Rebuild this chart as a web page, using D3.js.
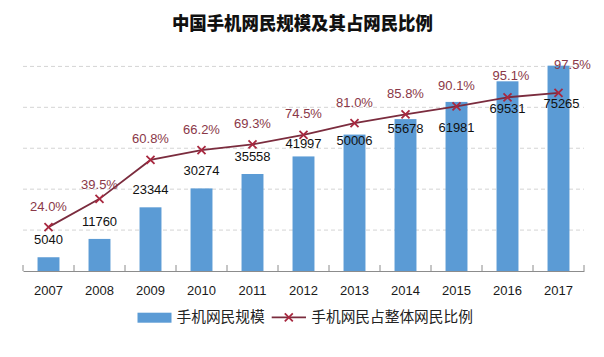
<!DOCTYPE html>
<html>
<head>
<meta charset="utf-8">
<script src="https://cdn.jsdelivr.net/npm/d3@7"></script>
<style>
  html, body { margin: 0; padding: 0; background: #fff; }
  svg { display: block; }
</style>
</head>
<body>
<svg id="chart" width="604" height="357"></svg>
<script>
// ---- data ----
const years = ["2007","2008","2009","2010","2011","2012","2013","2014","2015","2016","2017"];
const users = [5040, 11760, 23344, 30274, 35558, 41997, 50006, 55678, 61981, 69531, 75265];
const shares = [24.0, 39.5, 60.8, 66.2, 69.3, 74.5, 81.0, 85.8, 90.1, 95.1, 97.5];
const gridTicks = [15000, 30000, 45000, 60000, 75000];
const title = "中国手机网民规模及其占网民比例";
const seriesNames = ["手机网民规模", "手机网民占整体网民比例"];

// ---- layout (label nudges, px) ----
const barLabelNudge = { "2012": [0, 4.4], "2013": [0, 23.6], "2014": [0, 26.7], "2015": [0, 42.6], "2016": [0, 44.2], "2017": [3, 55.1] };
const pctLabelNudge = { "2008": [0, 7], "2016": [3.5, -1], "2017": [14, -7] };

const barColor = "#5B9BD5";
const lineColor = "#7B2C3E";
const markColor = "#A8283F";
const pctColor = "#8A3848";
const numFont = "'Liberation Sans', Arial, 'Noto Sans CJK SC', sans-serif";
const cjkFont = "'Noto Sans CJK SC', 'Liberation Sans', sans-serif";

const svg = d3.select("#chart");
svg.append("rect").attr("width", 604).attr("height", 357).attr("fill", "#fff");

const x = d3.scaleBand().domain(years).range([23, 584]).padding(0);
const y = d3.scaleLinear().domain([0, 75000]).range([271, 66.4]);
const y2 = d3.scaleLinear().domain([0, 112]).range([271, 66.4]);
const bw = x.bandwidth() * 0.43;

// title
svg.append("text")
  .attr("x", 302.4).attr("y", 23.3).attr("dy", "0.35em")
  .attr("text-anchor", "middle")
  .attr("font-family", cjkFont).attr("font-weight", 900)
  .attr("font-size", 18.5).attr("fill", "#111")
  .attr("textLength", 261).attr("lengthAdjust", "spacingAndGlyphs")
  .text(title);

// gridlines
svg.append("g").selectAll("line").data(gridTicks).join("line")
  .attr("x1", 23).attr("x2", 584)
  .attr("y1", d => y(d)).attr("y2", d => y(d))
  .attr("stroke", "#d4d4d4").attr("stroke-width", 1)
  .attr("stroke-dasharray", "4,3");

// bars
svg.append("g").selectAll("rect").data(years).join("rect")
  .attr("x", (d) => x(d) + (x.bandwidth() - bw) / 2)
  .attr("width", bw)
  .attr("y", (d, i) => y(users[i]))
  .attr("height", (d, i) => y(0) - y(users[i]))
  .attr("fill", barColor);

// x axis
const xAxis = d3.axisBottom(x).tickSize(0).tickSizeOuter(0).tickPadding(14.5);
const gx = svg.append("g").attr("transform", `translate(0,${y(0)})`).call(xAxis);
gx.select(".domain").attr("stroke", "#8c8c8c");
gx.selectAll("text").attr("font-family", numFont).attr("font-size", 13).attr("fill", "#1a1a1a");
// boundary ticks
const bounds = years.map(d => x(d)).concat([x.range()[1]]);
svg.append("g").selectAll("line").data(bounds).join("line")
  .attr("x1", d => d).attr("x2", d => d)
  .attr("y1", y(0) - 6).attr("y2", y(0))
  .attr("stroke", "#8c8c8c").attr("stroke-width", 1);

// line
const cx = d => x(d) + x.bandwidth() / 2;
const line = d3.line().x(d => cx(d)).y((d, i) => y2(shares[i]));
svg.append("path").datum(years)
  .attr("d", line).attr("fill", "none")
  .attr("stroke", lineColor).attr("stroke-width", 1.8);

// markers
const ms = 4;
const mk = svg.append("g").selectAll("g").data(years).join("g")
  .attr("transform", (d, i) => `translate(${cx(d)},${y2(shares[i])})`);
mk.append("path").attr("d", `M${-ms},${-ms}L${ms},${ms}M${-ms},${ms}L${ms},${-ms}`)
  .attr("stroke", markColor).attr("stroke-width", 1.8);

// bar labels
svg.append("g").selectAll("text").data(years).join("text")
  .attr("x", d => cx(d) + (barLabelNudge[d] ? barLabelNudge[d][0] : 0))
  .attr("y", (d, i) => y(users[i]) - 17.5 + (barLabelNudge[d] ? barLabelNudge[d][1] : 0))
  .attr("dy", "0.35em").attr("text-anchor", "middle")
  .attr("font-family", numFont).attr("font-size", 13).attr("fill", "#111")
  .text((d, i) => users[i]);

// percent labels
svg.append("g").selectAll("text").data(years).join("text")
  .attr("x", d => cx(d) + (pctLabelNudge[d] ? pctLabelNudge[d][0] : 0))
  .attr("y", (d, i) => y2(shares[i]) - 21 + (pctLabelNudge[d] ? pctLabelNudge[d][1] : 0))
  .attr("dy", "0.35em").attr("text-anchor", "middle")
  .attr("font-family", numFont).attr("font-size", 13).attr("fill", pctColor)
  .text((d, i) => shares[i].toFixed(1) + "%");

// legend
const lg = svg.append("g");
lg.append("rect").attr("x", 137.5).attr("y", 312.7).attr("width", 34).attr("height", 10).attr("fill", barColor);
lg.append("text").attr("x", 176.5).attr("y", 317.3).attr("dy", "0.35em")
  .attr("font-family", cjkFont).attr("font-size", 14.7).attr("fill", "#222")
  .text(seriesNames[0]);
lg.append("line").attr("x1", 271.7).attr("x2", 306).attr("y1", 317.3).attr("y2", 317.3)
  .attr("stroke", lineColor).attr("stroke-width", 1.8);
lg.append("path").attr("transform", "translate(288.8,317.3)")
  .attr("d", `M${-ms},${-ms}L${ms},${ms}M${-ms},${ms}L${ms},${-ms}`)
  .attr("stroke", markColor).attr("stroke-width", 1.8);
lg.append("text").attr("x", 311.3).attr("y", 317.3).attr("dy", "0.35em")
  .attr("font-family", cjkFont).attr("font-size", 14.7).attr("fill", "#222")
  .text(seriesNames[1]);
</script>
</body>
</html>
